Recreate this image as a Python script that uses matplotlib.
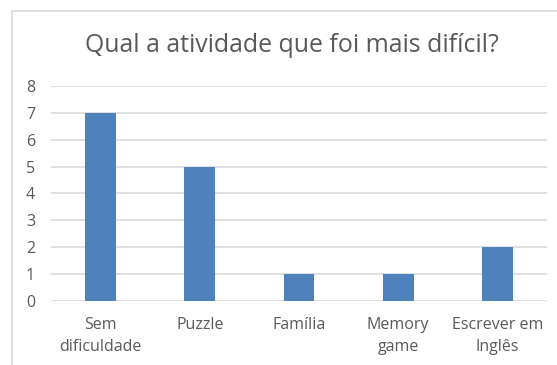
import matplotlib.pyplot as plt
from matplotlib.patches import Rectangle

categorias = ["Sem\ndificuldade", "Puzzle", "Família", "Memory\ngame", "Escrever em\nInglês"]
valores = [7, 5, 1, 1, 2]
titulo = "Qual a atividade que foi mais difícil?"

W, H = 557, 365
fig = plt.figure(figsize=(W / 100, H / 100), dpi=100)
plt.rcParams['font.family'] = ['Open Sans', 'DejaVu Sans']

# moldura do grafico (cortada em baixo e a direita)
fig.patches.append(Rectangle((12 / W, -0.1), 600 / W, 1.1 - 11 / H, transform=fig.transFigure,
                             fill=False, edgecolor='#d9d9d9', linewidth=1.2))

ax = fig.add_axes([51 / W, (H - 300.7) / H, 496 / W, 214.7 / H])
x = range(len(categorias))
ax.bar(x, valores, width=0.31, color='#4f81bd', zorder=3)
ax.set_xlim(-0.5, len(categorias) - 0.5)
ax.set_ylim(0, 8)
ax.set_yticks(range(0, 9))
ax.yaxis.grid(True, color='#d9d9d9', linewidth=1.2, zorder=0)
for s in ax.spines.values():
    s.set_visible(False)
ax.set_xticks(list(x))
ax.set_xticklabels(categorias, color='#595959', fontsize=11.5, linespacing=1.45)
ax.tick_params(axis='both', length=0, colors='#595959', labelsize=11.5)
ax.tick_params(axis='x', pad=12)
ax.tick_params(axis='y', pad=18)
for t in ax.get_yticklabels():
    t.set_horizontalalignment('left')

fig.text(292 / W, 1 - 45 / H, titulo, ha='center', va='center', fontsize=17.9, color='#595959')

fig.savefig("out.png", dpi=100)
